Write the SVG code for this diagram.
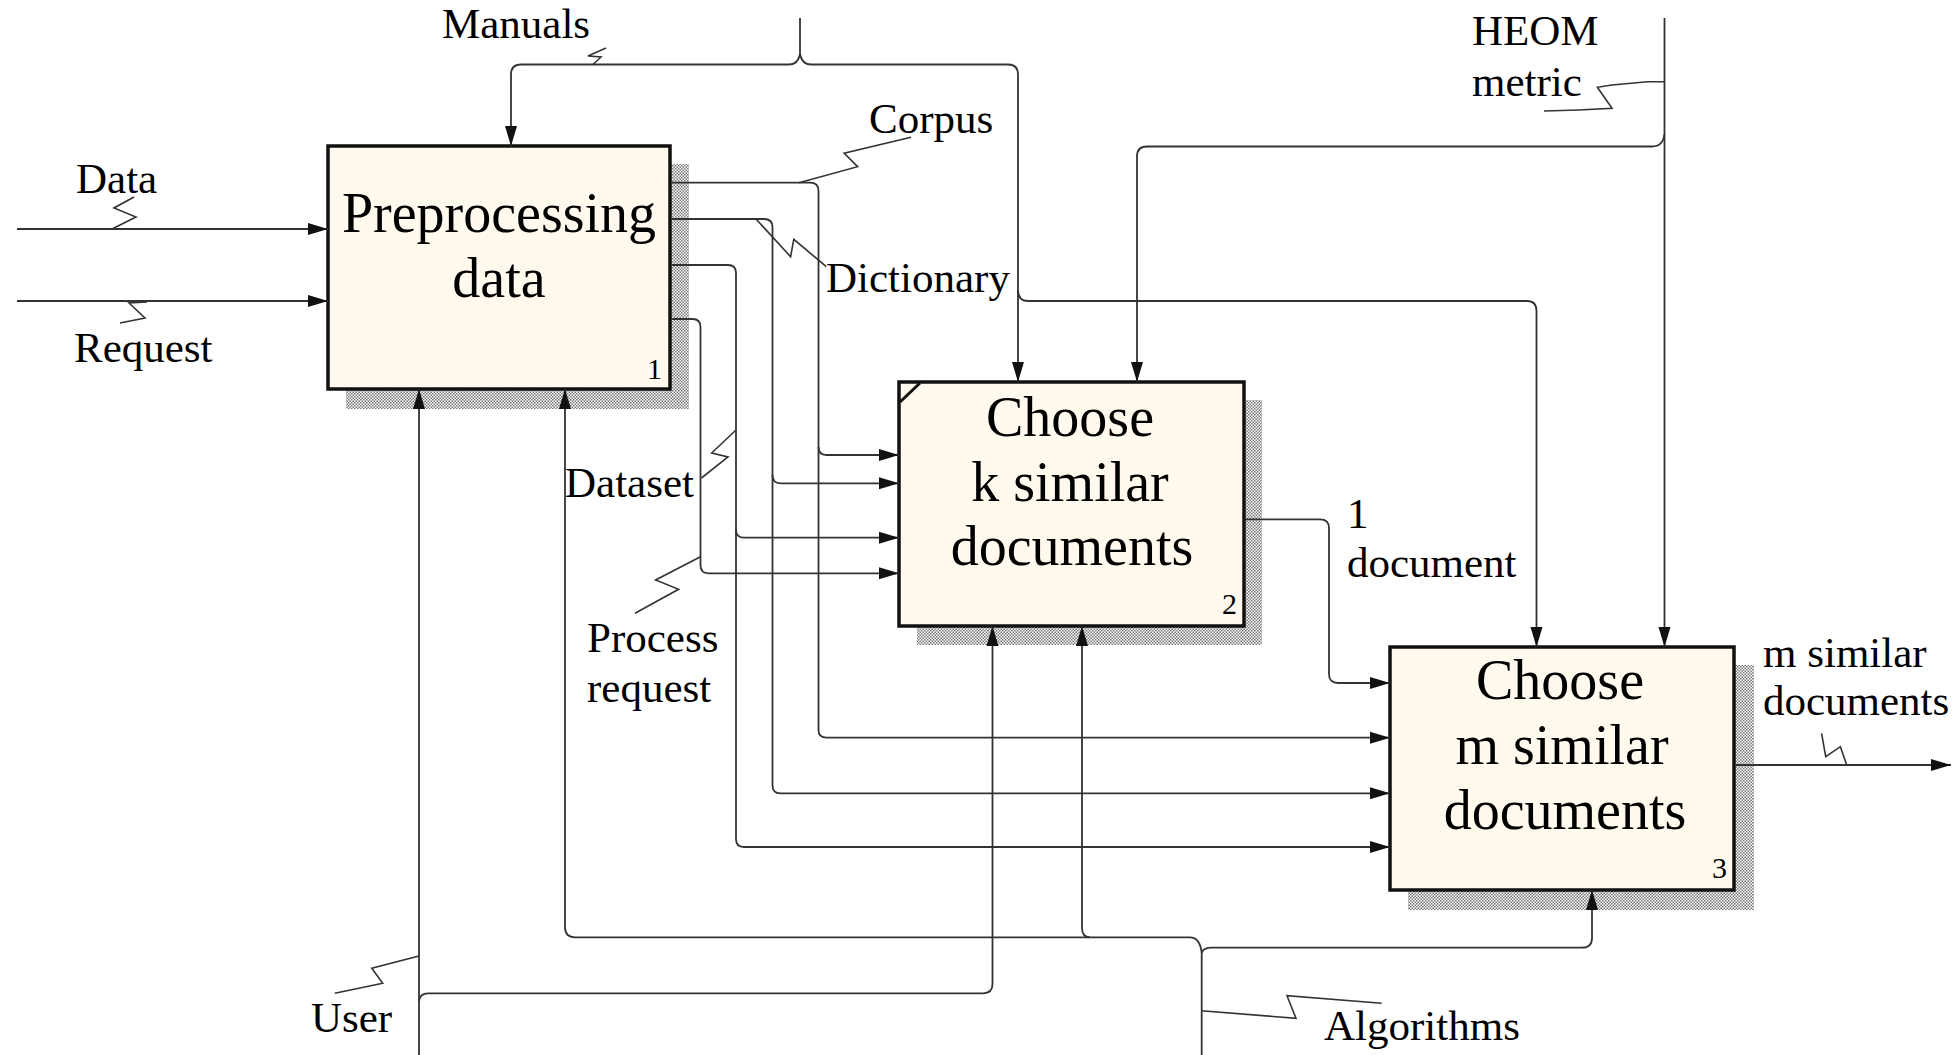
<svg xmlns="http://www.w3.org/2000/svg" width="1957" height="1055" viewBox="0 0 1957 1055">
<style>
.box{fill:#fff9ee;stroke:#111;stroke-width:3.5}
.shadow{fill:url(#hatch)}
.title{font-family:"Liberation Serif",serif;font-size:56px;fill:#000;text-anchor:middle}
.num{font-family:"Liberation Serif",serif;font-size:30px;fill:#000;text-anchor:end}
.lbl{font-family:"Liberation Serif",serif;font-size:43px;fill:#000}
.ln{fill:none;stroke:#333;stroke-width:1.8}
.arr{marker-end:url(#ah)}
.sq{fill:none;stroke:#333;stroke-width:1.6}
</style>
<defs>
<pattern id="hatch" width="3" height="3" patternUnits="userSpaceOnUse">
<rect width="3" height="3" fill="#fff"/>
<rect x="0" y="0" width="1.5" height="1.5" fill="#777"/>
<rect x="1.5" y="1.5" width="1.5" height="1.5" fill="#777"/>
</pattern>
<marker id="ah" markerUnits="userSpaceOnUse" markerWidth="20" markerHeight="14" viewBox="0 0 20 14" refX="20" refY="7" orient="auto">
<path d="M0,1 L20,7 L0,13 z" fill="#111"/>
</marker>
</defs>
<rect width="1957" height="1055" fill="#fff"/>

<g id="node1">
<rect class="shadow" x="346" y="164" width="343" height="245"/>
<rect class="box" x="328" y="146" width="342" height="243"/>
<text class="title" x="499" y="232">Preprocessing</text>
<text class="title" x="499" y="297">data</text>
<text class="num" x="662" y="379">1</text>
</g>

<g id="node2">
<rect class="shadow" x="917" y="400" width="345" height="245"/>
<rect class="box" x="899" y="382" width="345" height="244"/>
<line x1="900" y1="402" x2="920" y2="383" stroke="#111" stroke-width="3"/>
<text class="title" x="1070" y="436">Choose</text>
<text class="title" x="1070" y="501">k similar</text>
<text class="title" x="1072" y="565">documents</text>
<text class="num" x="1237" y="614">2</text>
</g>

<g id="node3">
<rect class="shadow" x="1408" y="665" width="346" height="245"/>
<rect class="box" x="1390" y="647" width="344" height="243"/>
<text class="title" x="1560" y="699">Choose</text>
<text class="title" x="1562" y="764">m similar</text>
<text class="title" x="1565" y="829">documents</text>
<text class="num" x="1727" y="878">3</text>
</g>

<g id="connectors">
<path class="ln arr" d="M17,229 H328"/>
<path class="ln arr" d="M17,301 H328"/>
<path class="ln" d="M800,18 V54"/>
<path class="ln arr" d="M800,54 Q798,64.5 789,64.5 H521 Q511,64.5 511,74.5 V146"/>
<path class="ln arr" d="M800,54 Q802,64.5 811,64.5 H1008 Q1018,64.5 1018,74.5 V382"/>
<path class="ln arr" d="M1018,290 Q1018,301 1028,301 H1527 Q1536.5,301 1536.5,311 V647"/>
<path class="ln arr" d="M1664.5,18 V647"/>
<path class="ln arr" d="M1664.5,134 Q1663,146.5 1652,146.5 H1147 Q1137,146.5 1137,156.5 V382"/>
<path class="ln arr" d="M671,182.7 H810 Q818.5,182.7 818.5,191 V730 Q818.5,737.7 826.5,737.7 H1390"/>
<path class="ln arr" d="M818.5,447 Q818.5,455 826.5,455 H899"/>
<path class="ln arr" d="M671,219 H764 Q772.5,219 772.5,227 V785.5 Q772.5,793.3 780.5,793.3 H1390"/>
<path class="ln arr" d="M772.5,475 Q772.5,483.3 780.5,483.3 H899"/>
<path class="ln arr" d="M671,265 H728 Q736,265 736,273 V839 Q736,847 744,847 H1390"/>
<path class="ln arr" d="M736,529.7 Q736,537.7 744,537.7 H899"/>
<path class="ln arr" d="M671,319 H692.5 Q700.5,319 700.5,327 V565.3 Q700.5,573.3 708.5,573.3 H899"/>
<path class="ln arr" d="M1245,519.3 H1320 Q1329,519.3 1329,528 V674 Q1329,683 1338,683 H1390"/>
<path class="ln arr" d="M1735,765 H1951"/>
<path class="ln arr" d="M419,1055 V389"/>
<path class="ln arr" d="M419,1001 Q420,993.3 428,993.3 H983 Q992.5,993.3 992.5,984 V626"/>
<path class="ln" d="M1201.7,1055 V953"/>
<path class="ln arr" d="M1201.7,953 Q1200,937.3 1190,937.3 H575 Q565,937.3 565,927 V389"/>
<path class="ln arr" d="M1201.7,953 Q1203,947.7 1212,947.7 H1582 Q1592,947.7 1592,938 V890"/>
<path class="ln arr" d="M1090,937.3 Q1082,937.3 1082,928 V626"/>
<polyline class="sq" points="134,197 114,208 136,217 112,229"/>
<polyline class="sq" points="147,302 129,303 145,318 120,323"/>
<polyline class="sq" points="606,48 588,56 601,57 593,64.5"/>
<polyline class="sq" points="799,182.7 857.6,166.7 844.2,153.3 911,137.3"/>
<polyline class="sq" points="756,219 790.6,256.7 793.8,239.3 826.3,266.7"/>
<polyline class="sq" points="1664.5,81.7 1647.7,81.7 1612,85 1597.4,87.3 1612,108.3 1578.6,110 1544,111"/>
<polyline class="sq" points="701.5,478 728,457 711.7,453 736,430"/>
<polyline class="sq" points="635,613.3 678.6,589.3 655.6,580 700.5,556.7"/>
<polyline class="sq" points="1821.6,733.3 1825.7,756.7 1840.4,746.7 1846.7,765"/>
<polyline class="sq" points="334.8,993.3 382.7,983.3 371.8,968.3 419,956"/>
<polyline class="sq" points="1201.5,1010.7 1296,1018.3 1287,995.7 1381.6,1003.3"/>
</g>

<g id="labels">
<text class="lbl" x="442" y="38">Manuals</text>
<text class="lbl" x="76" y="193">Data</text>
<text class="lbl" x="74" y="362">Request</text>
<text class="lbl" x="869" y="133">Corpus</text>
<text class="lbl" x="826" y="292">Dictionary</text>
<text class="lbl" x="1472" y="45">HEOM</text>
<text class="lbl" x="1472" y="96">metric</text>
<text class="lbl" x="565" y="497">Dataset</text>
<text class="lbl" x="587" y="652">Process</text>
<text class="lbl" x="587" y="702">request</text>
<text class="lbl" x="1347" y="528">1</text>
<text class="lbl" x="1347" y="577">document</text>
<text class="lbl" x="1763" y="667">m similar</text>
<text class="lbl" x="1763" y="715">documents</text>
<text class="lbl" x="311" y="1032">User</text>
<text class="lbl" x="1324" y="1040">Algorithms</text>
</g>
</svg>
